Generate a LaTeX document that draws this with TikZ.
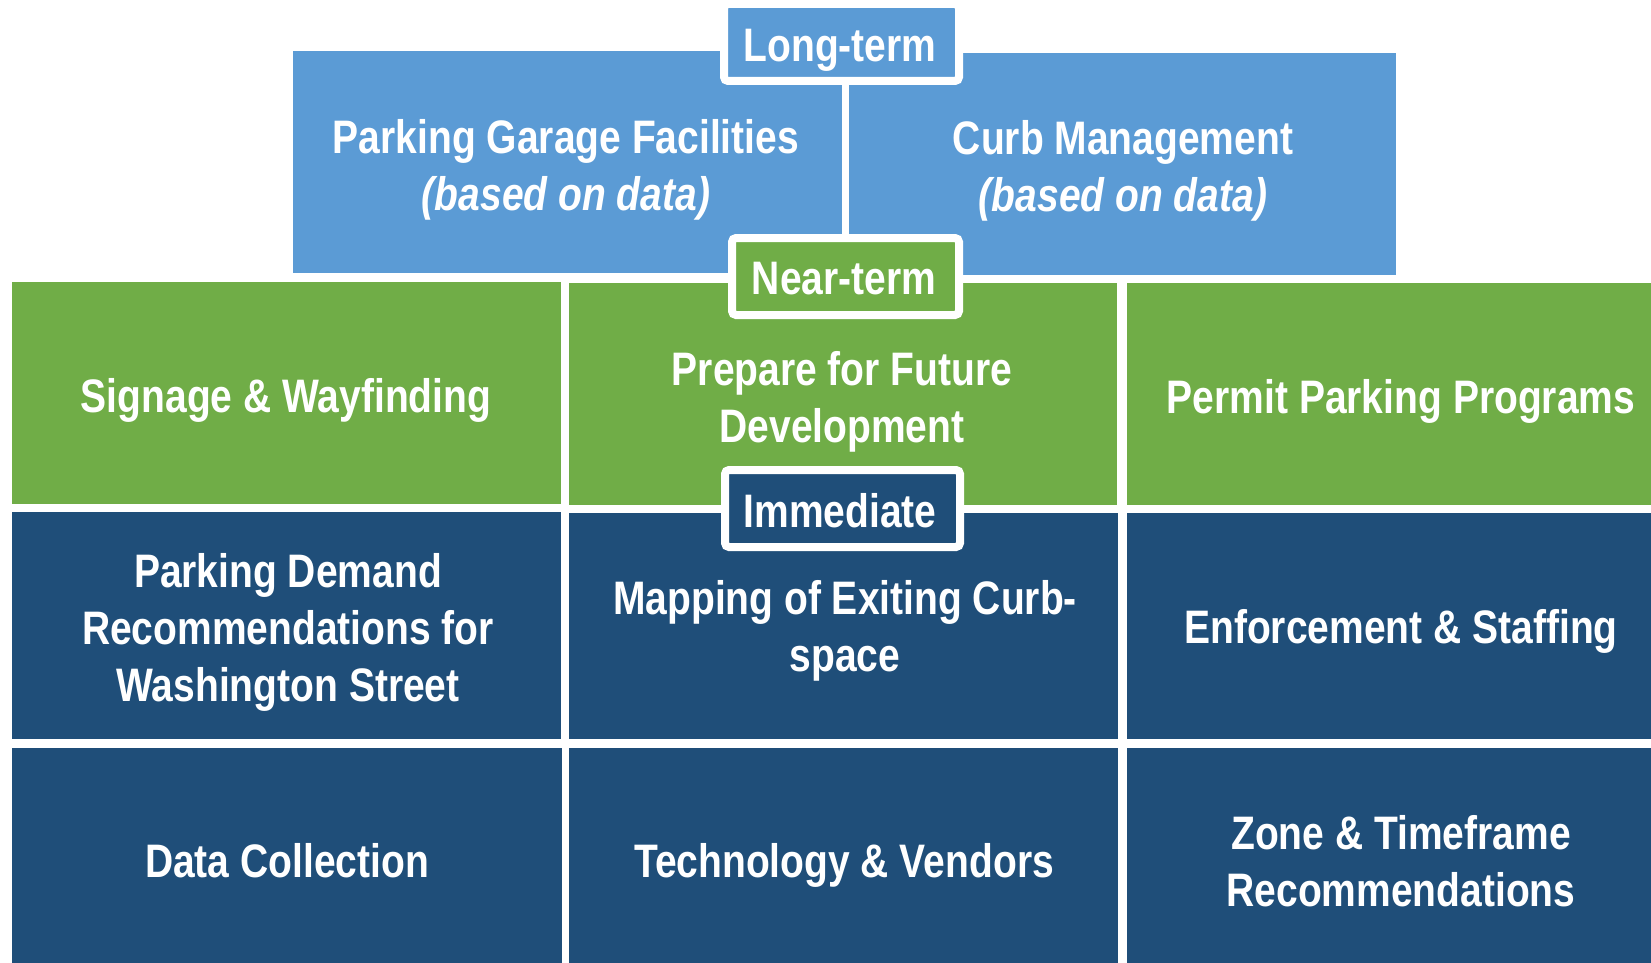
\documentclass[tikz,border=0pt]{standalone}
\usepackage{fontspec}
\setmainfont{Liberation Sans}[FakeStretch=0.83]
\definecolor{lblue}{HTML}{5B9BD5}
\definecolor{lgreen}{HTML}{70AD47}
\definecolor{dblue}{HTML}{1F4E79}
\begin{document}
\begin{tikzpicture}[x=1pt,y=-1pt,
  cell/.style={rectangle, inner sep=0pt, outer sep=0pt, anchor=north west},
  tag/.style={rectangle, draw=white, line width=8pt, rounded corners=4pt, inner sep=0pt, minimum height=77pt},
  txt/.style={text=white, inner sep=0pt, align=center, font=\fontsize{47}{57}\selectfont\bfseries},
  btxt/.style={txt, anchor=base}]
\useasboundingbox[fill=white] (0,0) rectangle (1651,963);
% long-term boxes
\node[cell, fill=lblue, minimum width=549pt, minimum height=222pt] (pgf) at (293,51) {};
\node[cell, fill=lblue, minimum width=547pt, minimum height=222pt] (curb) at (849,53) {};
% near-term boxes
\node[cell, fill=lgreen, minimum width=549pt, minimum height=222pt] (sign) at (12,282) {};
\node[cell, fill=lgreen, minimum width=548pt, minimum height=222pt] (prep) at (569,283) {};
\node[cell, fill=lgreen, minimum width=530pt, minimum height=222pt] (perm) at (1127,283) {};
% immediate boxes
\node[cell, fill=dblue, minimum width=549pt, minimum height=227pt] (dem) at (12,512) {};
\node[cell, fill=dblue, minimum width=549pt, minimum height=226pt] (map) at (569,513) {};
\node[cell, fill=dblue, minimum width=530pt, minimum height=226pt] (enf) at (1127,513) {};
\node[cell, fill=dblue, minimum width=550pt, minimum height=220pt] (dat) at (12,748) {};
\node[cell, fill=dblue, minimum width=549pt, minimum height=220pt] (tech) at (569,748) {};
\node[cell, fill=dblue, minimum width=530pt, minimum height=220pt] (zone) at (1127,748) {};
% tags
\node[tag, fill=lblue, minimum width=235pt] (lt) at (841.5,42.5) {};
\node[tag, fill=lgreen, minimum width=227pt] (nt) at (845.5,276.5) {};
\node[tag, fill=dblue, minimum width=235pt] (im) at (842.5,508.5) {};
% texts
\node[btxt] (ltT) at (840,61.5) {Long-term};
\node[btxt] (ntT) at (844,294) {Near-term};
\node[btxt] (imT) at (840,527) {Immediate};
\node[txt] (pgfT) at (566,169.5) {Parking Garage Facilities\\\itshape (based on data)};
\node[txt] (curbT) at (1123,171) {Curb Management\\\itshape (based on data)};
\node[btxt] (signT) at (286,412) {Signage \& Wayfinding};
\node[txt] (prepT) at (842,401.5) {Prepare for Future\\Development};
\node[btxt] (permT) at (1401,413) {Permit Parking Programs};
\node[txt] (demT) at (288,632) {Parking Demand\\Recommendations for\\Washington Street};
\node[txt] (mapT) at (845,631) {Mapping of Exiting Curb-\\space};
\node[btxt] (enfT) at (1401,643) {Enforcement \& Staffing};
\node[btxt] (datT) at (287,877) {Data Collection};
\node[btxt] (techT) at (844,877) {Technology \& Vendors};
\node[txt] (zoneT) at (1401,861) {Zone \& Timeframe\\Recommendations};
\end{tikzpicture}
\end{document}
